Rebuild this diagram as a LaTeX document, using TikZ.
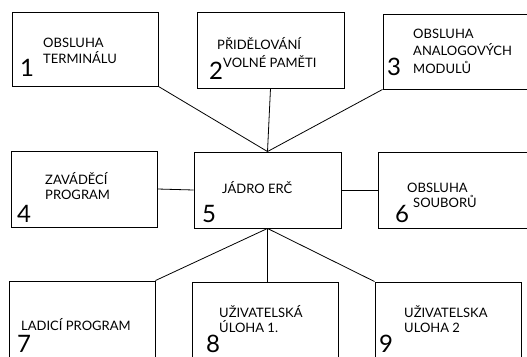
\documentclass[tikz,border=0pt]{standalone}
\usepackage{fontspec}
\setmainfont{Lato}
\begin{document}
\begin{tikzpicture}[x=1pt,y=-1pt,
  box/.style={draw,line width=0.9pt,inner sep=0pt},
  conn/.style={line width=0.8pt},
  lbl/.style={anchor=base west,inner sep=0pt,font=\fontsize{13}{14}\selectfont},
  num/.style={anchor=base west,inner sep=0pt,font=\fontsize{24}{24}\selectfont}]
\useasboundingbox (0,0) rectangle (527,356);
\clip (0,0) rectangle (527,356);
% boxes
\node[box,minimum width=146pt,minimum height=74pt] (b1) at (85,49) {};
\node[box,minimum width=147pt,minimum height=76pt] (b2) at (270.5,50) {};
\node[box,minimum width=157pt,minimum height=75pt] (b3) at (461.5,51.5) {};
\node[box,minimum width=146pt,minimum height=76pt] (b4) at (84,189) {};
\node[box,minimum width=147pt,minimum height=76pt] (b5) at (267.5,190) {};
\node[box,minimum width=162pt,minimum height=76pt] (b6) at (459,190) {};
\node[box,minimum width=146pt,minimum height=99pt] (b7) at (82,330.5) {};
\node[box,minimum width=146pt,minimum height=98pt] (b8) at (265,331) {};
\node[box,minimum width=146pt,minimum height=98pt] (b9) at (448,331) {};
% connectors
\draw[conn] (b1.south east) -- (b5.north);
\draw[conn] (b2.south) -- (b5.north);
\draw[conn] (b3.south west) -- (b5.north);
\draw[conn] (b4.east) -- (b5.west);
\draw[conn] (b5.east) -- (b6.west);
\draw[conn] (b5.south) -- (b7.north east);
\draw[conn] (b5.south) -- (b5.south |- b8.north);
\draw[conn] (b5.south) -- (b9.north west);
% texts
\node[lbl] (t1a) at (43,47) {OBSLUHA};
\node[lbl] (t1b) at (43,63) {TERMINÁLU};
\node[num] (n1) at (20,76) {1};
\node[lbl] (t2a) at (217,49) {PŘIDĚLOVÁNÍ};
\node[lbl] (t2b) at (223,67) {VOLNÉ PAMĚTI};
\node[num] (n2) at (209,79) {2};
\node[lbl] (t3a) at (413,38) {OBSLUHA};
\node[lbl] (t3b) at (413,55) {ANALOGOVÝCH};
\node[lbl] (t3c) at (413,73) {MODULŮ};
\node[num] (n3) at (387,75) {3};
\node[lbl] (t4a) at (45,184) {ZAVÁDĚCÍ};
\node[lbl] (t4b) at (45,199) {PROGRAM};
\node[num] (n4) at (17,222) {4};
\node[lbl] (t5) at (222,193) {JÁDRO ERČ};
\node[num] (n5) at (202,222) {5};
\node[lbl] (t6a) at (407,192) {OBSLUHA};
\node[lbl] (t6b) at (413,207) {SOUBORŮ};
\node[num] (n6) at (395,222) {6};
\node[lbl] (t7) at (21,330) {LADICÍ PROGRAM};
\node[num] (n7) at (17,352) {7};
\node[lbl] (t8a) at (219,317) {UŽIVATELSKÁ};
\node[lbl] (t8b) at (219,332) {ÚLOHA 1.};
\node[num] (n8) at (206,352) {8};
\node[lbl] (t9a) at (404,317) {UŽIVATELSKA};
\node[lbl] (t9b) at (404,332) {ULOHA 2};
\node[num] (n9) at (379,352) {9};
\end{tikzpicture}
\end{document}
